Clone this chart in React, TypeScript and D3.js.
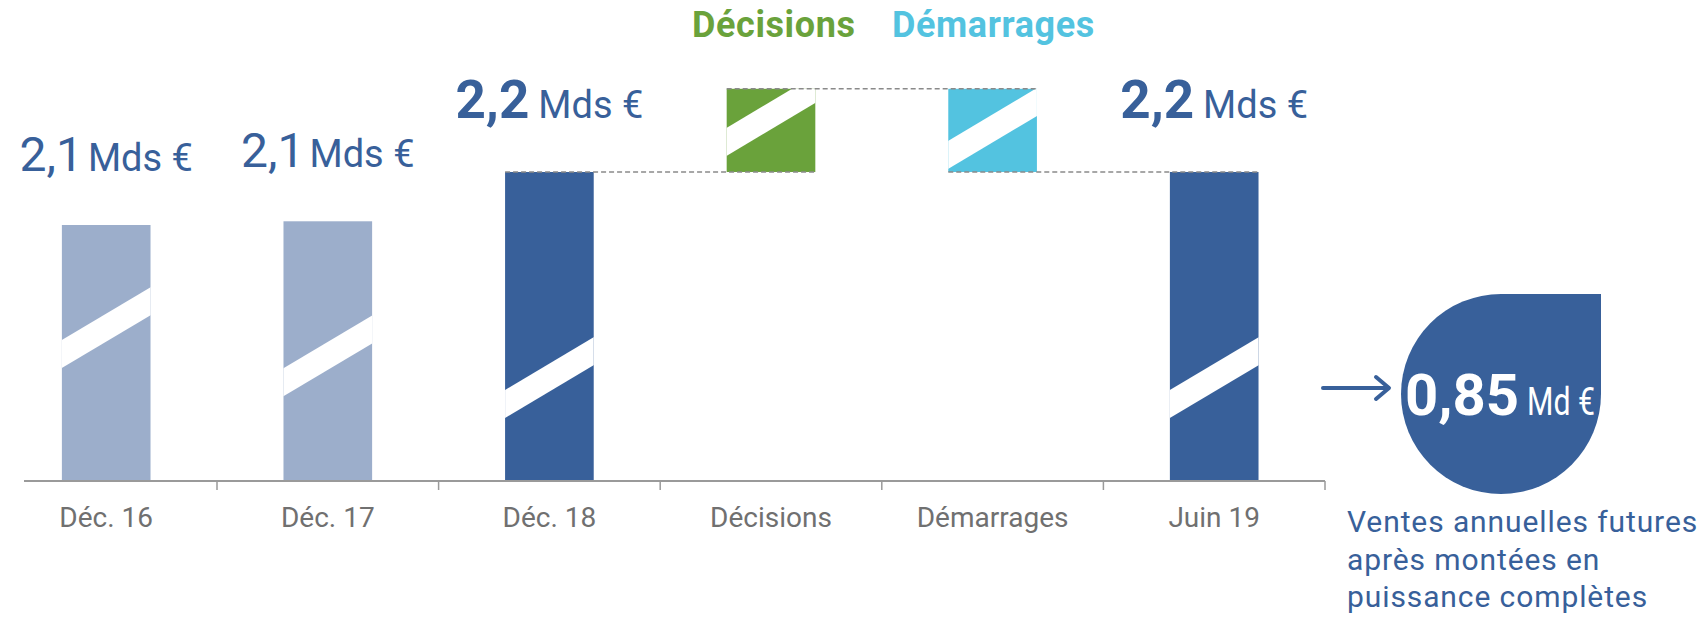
import React from "react";
import * as d3 from "d3";

// ---------- data ----------
const categories = ["Déc. 16", "Déc. 17", "Déc. 18", "Décisions", "Démarrages", "Juin 19"];
const kinds = ["past", "past", "total", "increase", "decrease", "total"];
// totals in Mds € for stocks, deltas for flows (broken axis)
const values = [2.1, 2.107, 2.2, 0.157, -0.157, 2.2];
const valueLabels = ["2,1", "2,1", "2,2", "", "", "2,2"];
const unitLabel = "Mds €";
const legendLabels = ["Décisions", "Démarrages"];
const axisBase = 1.617; // truncated (broken) axis baseline
const futureValue = "0,85";
const futureUnit = "Md €";
const futureCaption = ["Ventes annuelles futures", "après montées en", "puissance complètes"];

// ---------- styles ----------
const COLORS: Record<string, string> = {
  past: "#9caecb",
  total: "#38609a",
  increase: "#6aa23b",
  decrease: "#53c3e0",
};
const BLUE = "#38609a";
const FONT = "Roboto, 'Noto Sans', sans-serif";
// decorative break stripe offsets (px below bar top, at bar's left edge)
const breakOffsets = [115, 147, 218, 39, 52, 218];

export default function App() {
  const W = 1704;
  const H = 617;
  const baseY = 481;

  const x = d3
    .scaleBand<string>()
    .domain(categories)
    .range([-4.6, 1325])
    .paddingInner(0.6)
    .paddingOuter(0.3);
  const y = d3.scaleLinear().domain([axisBase, 2.2]).range([baseY, 172]);
  const bw = x.bandwidth();
  const step = x.step();

  let running = 0;
  const bars = categories.map((c, i) => {
    const k = kinds[i];
    const v = values[i];
    let lo: number, hi: number;
    if (k === "increase") {
      lo = running;
      hi = running + v;
      running = hi;
    } else if (k === "decrease") {
      lo = running + v;
      hi = running;
      running = lo;
    } else {
      lo = axisBase;
      hi = v;
      running = v;
    }
    const x0 = x(c) as number;
    return { c, i, k, x0, x1: x0 + bw, top: y(hi), bottom: y(lo), hiVal: hi };
  });

  const rise = 0.596 * bw;
  const thick = 28;
  const slope = rise / bw;

  const dash = { stroke: "#8a8a8a", strokeWidth: 1.5, strokeDasharray: "5 3" };
  const b = bars;
  const upperY = b[3].top;
  const lowerY = b[2].top;

  const axisStart = 24;
  const axisEnd = x.range()[1];
  const tickXs = categories.map((c) => (x(c) as number) + bw + (step - bw) / 2);

  return (
    <svg
      width={W}
      height={H}
      style={{ position: "absolute", left: 0, top: 0, background: "#fff" }}
      fontFamily={FONT}
    >
      <defs>
        {bars.map((d) => (
          <clipPath id={`clip${d.i}`} key={d.i}>
            <rect x={d.x0} y={d.top} width={bw} height={d.bottom - d.top} />
          </clipPath>
        ))}
      </defs>

      {bars.map((d) => (
        <rect key={`b${d.i}`} x={d.x0} y={d.top} width={bw} height={d.bottom - d.top} fill={COLORS[d.k]} />
      ))}

      {bars.map((d) => {
        const yL = d.top + breakOffsets[d.i];
        const e = 6;
        const pts = [
          [d.x0 - e, yL + e * slope],
          [d.x1 + e, yL - rise - e * slope],
          [d.x1 + e, yL - rise - e * slope + thick],
          [d.x0 - e, yL + e * slope + thick],
        ]
          .map((p) => p.join(","))
          .join(" ");
        return <polygon key={`s${d.i}`} points={pts} fill="#fff" clipPath={`url(#clip${d.i})`} />;
      })}

      <line x1={b[2].x0} x2={b[3].x1} y1={lowerY} y2={lowerY} {...dash} />
      <line x1={b[4].x0} x2={b[5].x1} y1={lowerY} y2={lowerY} {...dash} />
      <line x1={b[3].x0} x2={b[4].x1} y1={upperY} y2={upperY} {...dash} />

      <line x1={axisStart} x2={axisEnd} y1={baseY} y2={baseY} stroke="#9a9a9a" strokeWidth={2} />
      {tickXs.map((tx, i) => (
        <line key={`t${i}`} x1={tx} x2={tx} y1={baseY} y2={baseY + 9} stroke="#9a9a9a" strokeWidth={1.5} />
      ))}
      {categories.map((c) => (
        <text
          key={`l${c}`}
          x={(x(c) as number) + bw / 2}
          y={527}
          textAnchor="middle"
          fontSize={28}
          fill="#707070"
        >
          {c}
        </text>
      ))}

      {bars.map((d) => {
        const lbl = valueLabels[d.i];
        if (!lbl) return null;
        const strong = d.k === "total";
        return (
          <text key={`v${d.i}`} x={d.x0 + bw / 2} y={d.top - 54} textAnchor="middle" fill={BLUE}>
            <tspan fontSize={strong ? 53 : 48} fontWeight={strong ? 700 : 400}>
              {lbl}
            </tspan>
            <tspan fontSize={38} dx={strong ? 9 : 5}>
              {unitLabel}
            </tspan>
          </text>
        );
      })}

      <text x={692} y={37} fontSize={36} fontWeight={700} fill={COLORS.increase} letterSpacing={0.6}>
        {legendLabels[0]}
      </text>
      <text x={892} y={37} fontSize={36} fontWeight={700} fill={COLORS.decrease} letterSpacing={0.6}>
        {legendLabels[1]}
      </text>

      <line x1={1323} x2={1388} y1={388} y2={388} stroke={BLUE} strokeWidth={4} strokeLinecap="round" />
      <polyline
        points="1376,377 1389,388 1376,399"
        fill="none"
        stroke={BLUE}
        strokeWidth={4}
        strokeLinecap="round"
        strokeLinejoin="round"
      />

      {(() => {
        const cx = 1501;
        const cy = 394;
        const r = 100;
        const p = `M${cx - r},${cy} A${r},${r} 0 0 1 ${cx},${cy - r} L${cx + r},${cy - r} L${cx + r},${cy} A${r},${r} 0 0 1 ${cx},${cy + r} A${r},${r} 0 0 1 ${cx - r},${cy} Z`;
        return <path d={p} fill={BLUE} />;
      })()}
      <text x={1405} y={415} fontSize={58} fontWeight={700} fill="#fff">
        {futureValue}
      </text>
      <text x={1527} y={415} fontSize={38} fill="#fff" textLength={68} lengthAdjust="spacingAndGlyphs">
        {futureUnit}
      </text>

      {futureCaption.map((t, i) => (
        <text key={`c${i}`} x={1347} y={532 + i * 37.5} fontSize={30} fill={BLUE} letterSpacing={0.9}>
          {t}
        </text>
      ))}
    </svg>
  );
}
